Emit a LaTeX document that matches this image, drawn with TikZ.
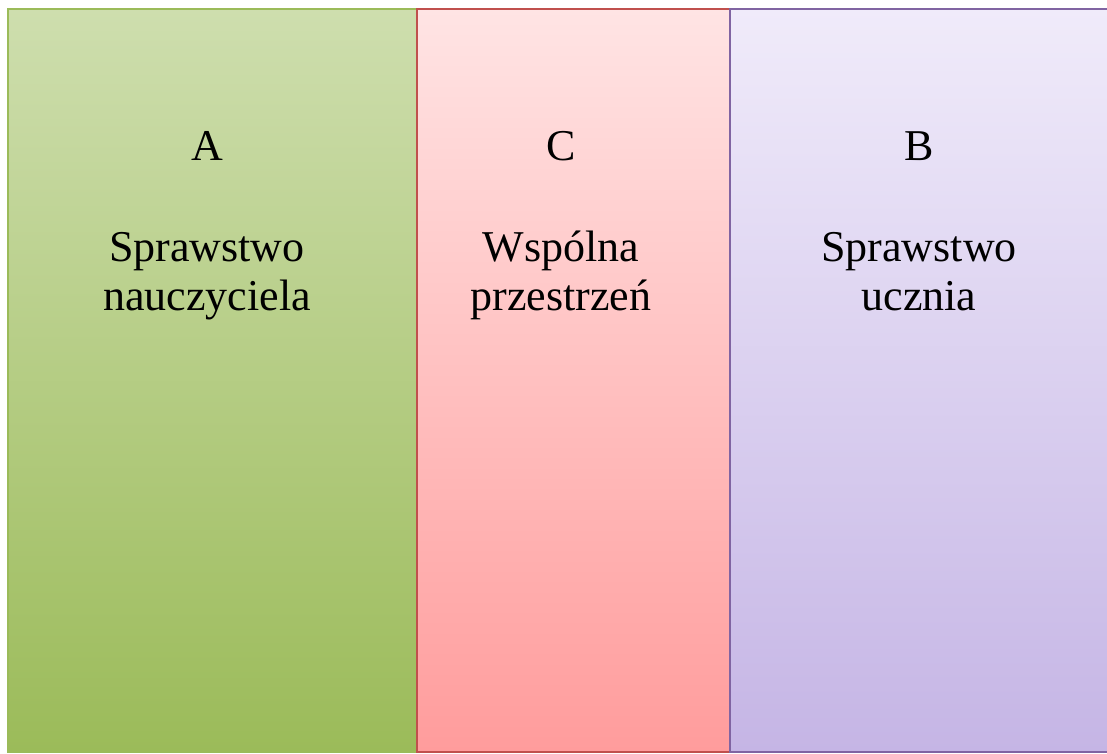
\documentclass[tikz,border=0pt]{standalone}
\usepackage{fontspec}
\setmainfont{Liberation Serif}
\usepackage{xcolor}
\definecolor{teachtop}{RGB}{206, 222, 174}
\definecolor{teachbot}{RGB}{155, 187, 89}
\definecolor{teachline}{RGB}{155, 187, 89}
\definecolor{sharetop}{RGB}{255, 228, 228}
\definecolor{sharebot}{RGB}{255, 156, 156}
\definecolor{shareline}{RGB}{192, 80, 77}
\definecolor{pupiltop}{RGB}{240, 235, 250}
\definecolor{pupilbot}{RGB}{197, 181, 229}
\definecolor{pupilline}{RGB}{128, 100, 162}

\tikzset{
  column/.style={draw, line width=1pt, inner sep=0pt, anchor=south west,
    minimum height=371.5pt},
  caption/.style={anchor=north, inner sep=0pt, align=center,
    font=\fontsize{22}{24.5}\selectfont}
}

\begin{document}
\begin{tikzpicture}[x=0.5pt, y=0.5pt]
  \useasboundingbox (0,0) rectangle (1107,754);
  % Columns
  \node[column, draw=teachline, top color=teachtop, bottom color=teachbot,
    minimum width=205pt] (teacher) at (7,1) {};
  \node[column, draw=shareline, top color=sharetop, bottom color=sharebot,
    minimum width=156.5pt] (shared) at (416,1) {};
  \node[column, draw=pupilline, top color=pupiltop, bottom color=pupilbot,
    minimum width=191.5pt] (pupil) at (729,1) {};
  % Labels
  \node[caption] (teachtext) at (207,623) {A\\[26pt]Sprawstwo\\nauczyciela};
  \node[caption] (sharetext) at (561,623) {C\\[26pt]Wspólna\\przestrzeń};
  \node[caption] (pupiltext) at (919,623) {B\\[26pt]Sprawstwo\\ucznia};
\end{tikzpicture}
\end{document}
